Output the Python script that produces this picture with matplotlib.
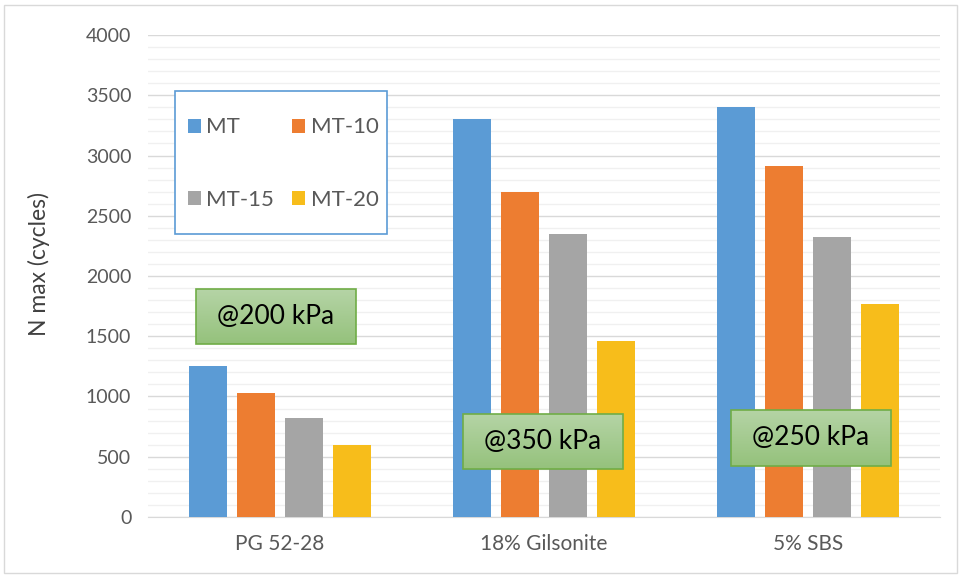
import numpy as np
import matplotlib.pyplot as plt
from matplotlib.patches import Rectangle
from matplotlib.colors import LinearSegmentedColormap

plt.rcParams['font.family'] = ['Lato', 'DejaVu Sans']

# cycles to failure per binder and mix
binders = ["PG 52-28", "18% Gilsonite", "5% SBS"]
series = ["MT", "MT-10", "MT-15", "MT-20"]
mt = [1250, 3300, 3400]
mt_10 = [1030, 2700, 2910]
mt_15 = [820, 2350, 2320]
mt_20 = [600, 1460, 1765]
pressures = ["@200 kPa", "@350 kPa", "@250 kPa"]

colors = ["#5b9bd5", "#ed7d31", "#a5a5a5", "#f7bd1b"]
values = [mt, mt_10, mt_15, mt_20]

fig = plt.figure(figsize=(9.61, 5.75), dpi=100)
ax = fig.add_axes([0.154, 0.101, 0.824, 0.838])

x = np.arange(len(binders))
step = 0.182
width = 0.144
bars = []
for k, (name, vals, c) in enumerate(zip(series, values, colors)):
    bars.append(ax.bar(x + (k - 1.5) * step, vals, width, color=c, label=name, zorder=3))

ax.set_xlim(-0.5, 2.5)
ax.set_ylim(0, 4000)
ax.set_yticks(np.arange(0, 4001, 500))
ax.set_yticks(np.arange(0, 4001, 100), minor=True)
ax.grid(axis="y", which="major", color="#d9d9d9", lw=1.0, zorder=0)
ax.grid(axis="y", which="minor", color="#f0f0f0", lw=1.0, zorder=0)
ax.set_xticks(x)
ax.set_xticklabels(binders)
ax.tick_params(axis="y", which="both", length=0, labelsize=14,
               colors="#595959", pad=12)
ax.tick_params(axis="x", which="both", length=0, labelsize=15,
               colors="#595959", pad=12)
for s in ["top", "right", "left"]:
    ax.spines[s].set_visible(False)
ax.spines["bottom"].set_color("#d9d9d9")
ax.set_ylabel("N max (cycles)", fontsize=16.5, color="#404040")
ax.yaxis.set_label_coords(-0.124, 0.525)

# row-wise legend order: MT, MT-10 / MT-15, MT-20
order = [0, 2, 1, 3]
leg = ax.legend([bars[i] for i in order], [series[i] for i in order],
                ncol=2, loc="upper left", bbox_to_anchor=(0.05, 0.829),
                fontsize=16, frameon=False,
                handlelength=0.6, handleheight=0.6, handletextpad=0.25,
                labelspacing=2.35, borderpad=0, columnspacing=0.8,
                borderaxespad=0)
for t in leg.get_texts():
    t.set_color("#595959")
leg.set_zorder(5)
ax.add_patch(Rectangle((0.034, 0.587), 0.268, 0.297, transform=ax.transAxes,
                       facecolor="white", edgecolor="#5b9bd5", lw=1.2, zorder=4.5))

# green gradient callouts with the test pressure
green = LinearSegmentedColormap.from_list("g", ["#b5d4a6", "#95c27c"])
boxes = [(-0.318, 1436, 0.606, 456), (0.693, 398, 0.606, 457), (1.708, 423, 0.606, 465)]
grad = np.linspace(0, 1, 64).reshape(-1, 1)
for (bx, by, bw, bh), label in zip(boxes, pressures):
    img = ax.imshow(grad, cmap=green, aspect="auto", origin="upper",
                    extent=(bx, bx + bw, by, by + bh), zorder=6)
    frame = Rectangle((bx, by), bw, bh, facecolor="none", edgecolor="#70ad47",
                      lw=1.2, zorder=7)
    ax.add_patch(frame)
    img.set_clip_path(frame)
    ax.text(bx + bw / 2, by + bh / 2, label, ha="center", va="center",
            fontsize=19, color="black", zorder=8)
ax.set_xlim(-0.5, 2.5)
ax.set_ylim(0, 4000)

fig.patches.append(Rectangle((0.004, 0.004), 0.992, 0.988, transform=fig.transFigure,
                             facecolor="none", edgecolor="#d9d9d9", lw=1.0))

fig.savefig("out.png", dpi=100)
